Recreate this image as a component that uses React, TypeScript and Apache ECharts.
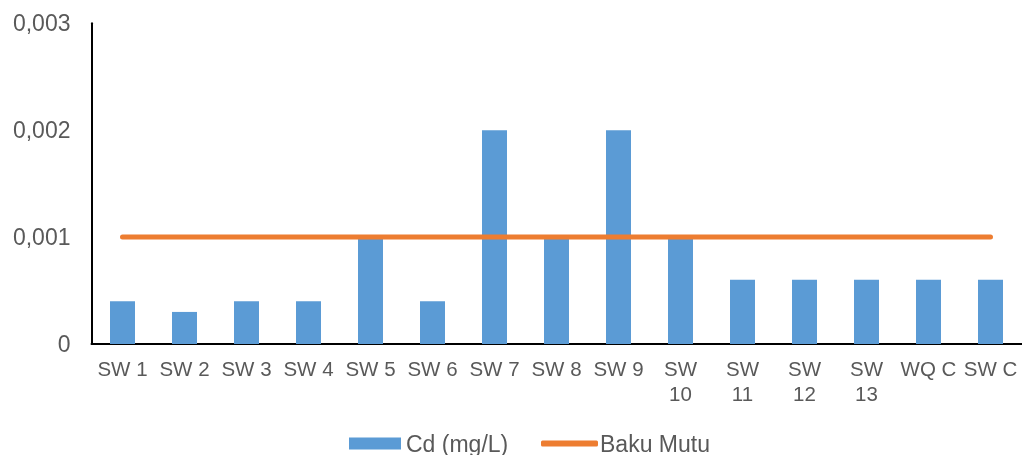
import React, { useEffect, useRef } from "react";
import * as echarts from "echarts";

const categories = ["SW 1", "SW 2", "SW 3", "SW 4", "SW 5", "SW 6", "SW 7", "SW 8", "SW 9", "SW 10", "SW 11", "SW 12", "SW 13", "WQ C", "SW C"];
const cdValues = [0.0004, 0.0003, 0.0004, 0.0004, 0.001, 0.0004, 0.002, 0.001, 0.002, 0.001, 0.0006, 0.0006, 0.0006, 0.0006, 0.0006];
const bakuMutu = [0.001, 0.001, 0.001, 0.001, 0.001, 0.001, 0.001, 0.001, 0.001, 0.001, 0.001, 0.001, 0.001, 0.001, 0.001];
const yTicks = [0, 0.001, 0.002, 0.003];

const FONT = "'Liberation Sans', Arial, sans-serif";
const TXT = "#595959";

export default function App() {
  const ref = useRef<HTMLDivElement>(null);
  useEffect(() => {
    const chart = echarts.init(ref.current!, undefined, { renderer: "svg" });
    chart.setOption({
      animation: false,
      textStyle: { fontFamily: FONT },
      grid: { left: 91.5, right: 0.5, top: 23.3, bottom: 111, containLabel: false },
      legend: [
        {
          data: ["Cd (mg/L)"],
          left: 344,
          top: 427,
          itemWidth: 52,
          itemHeight: 12,
          icon: "rect",
          textStyle: { fontSize: 23, color: TXT, fontFamily: FONT },
        },
        {
          data: ["Baku Mutu"],
          left: 536,
          top: 427,
          itemWidth: 57,
          itemHeight: 6,
          icon: "roundRect",
          itemStyle: { color: "#ED7D31" },
          textStyle: { fontSize: 23, color: TXT, fontFamily: FONT, padding: [0, 0, 0, -3] },
        },
      ],
      xAxis: {
        type: "category",
        data: categories,
        axisLine: { lineStyle: { color: "#000", width: 2 } },
        axisTick: { show: false },
        axisLabel: {
          interval: 0,
          fontSize: 20.5,
          color: TXT,
          fontFamily: FONT,
          lineHeight: 25,
          margin: 12,
          formatter: (v: string) => (v.length > 4 ? v.replace(" ", "\n") : v),
        },
      },
      yAxis: {
        type: "value",
        min: 0,
        max: 0.003,
        interval: 0.001,
        axisLine: { show: true, lineStyle: { color: "#000", width: 2 } },
        axisTick: { show: false },
        splitLine: { show: false },
        axisLabel: {
          fontSize: 23,
          color: TXT,
          fontFamily: FONT,
          margin: 21,
          formatter: (v: number) => {
            const t = yTicks.find((k) => Math.abs(k - v) < 1e-9);
            const val = t === undefined ? v : t;
            return val === 0 ? "0" : val.toFixed(3).replace(".", ",");
          },
        },
      },
      series: [
        {
          name: "Cd (mg/L)",
          type: "bar",
          data: cdValues,
          barWidth: 25,
          itemStyle: { color: "#5B9BD5" },
        },
        {
          name: "Baku Mutu",
          type: "line",
          data: bakuMutu,
          symbol: "none",
          showSymbol: false,
          lineStyle: { color: "#ED7D31", width: 5, cap: "round" },
          itemStyle: { color: "#ED7D31" },
        },
      ],
    });
    return () => chart.dispose();
  }, []);
  return <div ref={ref} style={{ position: "fixed", left: 0, top: 0, width: 1022, height: 455 }} />;
}
